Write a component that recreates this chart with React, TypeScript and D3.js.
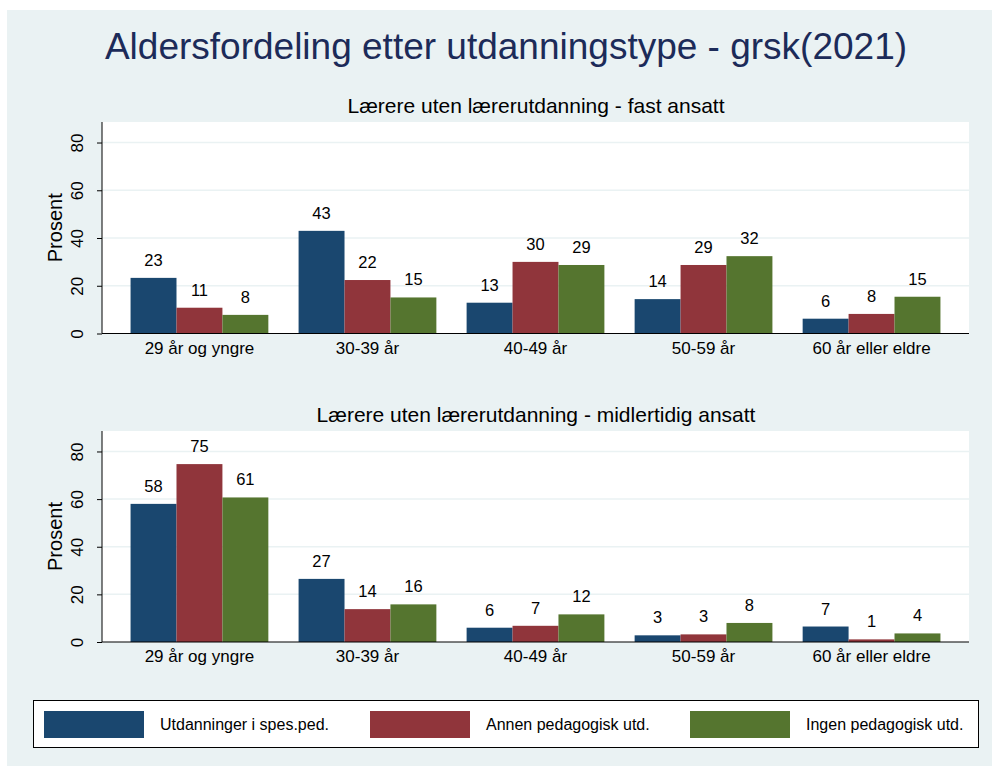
import React, { useEffect, useRef } from 'react';
import * as d3 from 'd3';

const categories = ['29 år og yngre', '30-39 år', '40-49 år', '50-59 år', '60 år eller eldre'];
const seriesNames = ['Utdanninger i spes.ped.', 'Annen pedagogisk utd.', 'Ingen pedagogisk utd.'];
const seriesColors = ['#1a476f', '#90353b', '#55752f'];
const yTicks = [0, 20, 40, 60, 80];

// Lærere uten lærerutdanning - fast ansatt
const fastSpesped = [23.3, 43.0, 12.9, 14.4, 6.2];
const fastAnnen = [10.8, 22.4, 30.0, 28.7, 8.2];
const fastIngen = [7.8, 15.1, 28.7, 32.4, 15.4];

// Lærere uten lærerutdanning - midlertidig ansatt
const midlSpesped = [58.0, 26.5, 6.0, 2.8, 6.5];
const midlAnnen = [74.7, 13.8, 6.8, 3.2, 1.1];
const midlIngen = [60.7, 15.8, 11.6, 8.0, 3.6];

const panels = [
    { title: 'Lærere uten lærerutdanning - fast ansatt', series: [fastSpesped, fastAnnen, fastIngen], top: 122, bottom: 333.5 },
    { title: 'Lærere uten lærerutdanning - midlertidig ansatt', series: [midlSpesped, midlAnnen, midlIngen], top: 431, bottom: 642 },
];

const FONT = '"Liberation Sans", Arial, sans-serif';

const App = () => {
    const svgRef = useRef(null);

    useEffect(() => {
        if (!svgRef.current) return;
        const svg = d3.select(svgRef.current);
        svg.selectAll('*').remove();

        const W = 992, H = 766;
        const left = 102, right = 969;

        // background
        svg.append('rect').attr('width', W).attr('height', H).attr('fill', '#ffffff');
        svg.append('rect').attr('x', 7).attr('y', 10).attr('width', W - 7).attr('height', H - 10).attr('fill', '#eaf2f3');

        // main title
        svg.append('text')
            .attr('x', 506).attr('y', 59)
            .attr('text-anchor', 'middle')
            .attr('font-family', FONT).attr('font-size', '37px')
            .attr('fill', '#1c2b59')
            .text('Aldersfordeling etter utdanningstype - grsk(2021)');

        const x0 = d3.scaleBand<string>().domain(categories).range([left, right]).paddingInner(0.18).paddingOuter(0.17);
        const x1 = d3.scaleBand<number>().domain([0, 1, 2]).range([0, x0.bandwidth()]);

        panels.forEach((p) => {
            const y = d3.scaleLinear().domain([0, 88.6]).range([p.bottom, p.top]);
            const g = svg.append('g');

            g.append('text')
                .attr('x', 536).attr('y', p.top - 9)
                .attr('text-anchor', 'middle')
                .attr('font-family', FONT).attr('font-size', '21px')
                .attr('fill', '#000')
                .text(p.title);

            g.append('rect')
                .attr('x', left).attr('y', p.top)
                .attr('width', right - left).attr('height', p.bottom - p.top)
                .attr('fill', '#ffffff');

            // grid
            g.selectAll('line.grid')
                .data(yTicks.filter(t => t > 0))
                .join('line')
                .attr('x1', left).attr('x2', right)
                .attr('y1', d => y(d)).attr('y2', d => y(d))
                .attr('stroke', '#eaf2f3').attr('stroke-width', 1.5);

            // bars + value labels
            categories.forEach((c, ci) => {
                p.series.forEach((vals, si) => {
                    const v = vals[ci];
                    const bx = (x0(c) as number) + (x1(si) as number);
                    g.append('rect')
                        .attr('x', bx).attr('y', y(v))
                        .attr('width', x1.bandwidth()).attr('height', y(0) - y(v))
                        .attr('fill', seriesColors[si]);
                    g.append('text')
                        .attr('x', bx + x1.bandwidth() / 2).attr('y', y(v) - 12)
                        .attr('text-anchor', 'middle')
                        .attr('font-family', FONT).attr('font-size', '16.5px')
                        .attr('fill', '#000')
                        .text(Math.round(v));
                });
            });

            // y axis
            const yAxis = d3.axisLeft(y).tickValues(yTicks).tickSize(5).tickFormat(d => String(d));
            const ya = g.append('g').attr('transform', `translate(${left},0)`).call(yAxis);
            ya.select('.domain').attr('stroke', '#000').attr('d', `M0,${p.top}V${p.bottom}`);
            ya.selectAll('.tick line').attr('stroke', '#000');
            ya.selectAll('.tick text')
                .attr('font-family', FONT).attr('font-size', '17px').attr('fill', '#000')
                .attr('text-anchor', 'middle')
                .attr('transform', 'translate(-25,0) rotate(-90)')
                .attr('x', 0).attr('y', 0).attr('dy', '0.35em');

            g.append('text')
                .attr('transform', `translate(55,${(p.top + p.bottom) / 2}) rotate(-90)`)
                .attr('text-anchor', 'middle').attr('dy', '0.35em')
                .attr('font-family', FONT).attr('font-size', '20px').attr('fill', '#000')
                .text('Prosent');

            // x axis
            const xAxis = d3.axisBottom(x0).tickSize(0).tickPadding(8);
            const xa = g.append('g').attr('transform', `translate(0,${p.bottom})`).call(xAxis);
            xa.select('.domain').attr('stroke', '#000').attr('stroke-width', 1.2).attr('d', `M${left},0H${right}`);
            xa.selectAll('.tick text').attr('font-family', FONT).attr('font-size', '17px').attr('fill', '#000');
        });

        // legend
        const leg = svg.append('g');
        leg.append('rect')
            .attr('x', 33.5).attr('y', 700.5).attr('width', 945).attr('height', 47)
            .attr('fill', '#fff').attr('stroke', '#000').attr('stroke-width', 1);
        const legKeyX = [44, 370, 690];
        seriesNames.forEach((n, i) => {
            const sx = legKeyX[i];
            leg.append('rect').attr('x', sx).attr('y', 711).attr('width', 100).attr('height', 27).attr('fill', seriesColors[i]);
            leg.append('text')
                .attr('x', sx + 116).attr('y', 724.5).attr('dy', '0.35em')
                .attr('font-family', FONT).attr('font-size', '16px').attr('fill', '#000')
                .text(n);
        });
    }, []);

    return (
        <div style={{ position: 'absolute', left: 0, top: 0 }}>
            <svg ref={svgRef} width={992} height={766} style={{ display: 'block' }}></svg>
        </div>
    );
};

export default App;
